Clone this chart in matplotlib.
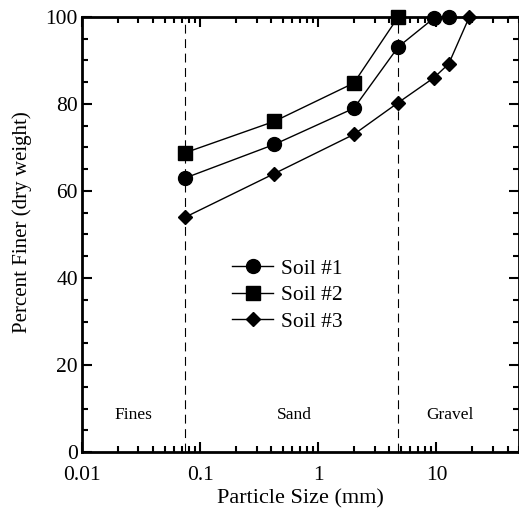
import matplotlib
matplotlib.use('Agg')
import matplotlib.pyplot as plt
from matplotlib.ticker import MultipleLocator, LogLocator, NullFormatter

plt.rcParams['font.family'] = ['Liberation Serif', 'DejaVu Serif']

# sieve sizes (mm) and percent finer
size1 = [0.075, 0.425, 2.0, 4.75, 9.5, 12.7]
soil1 = [63, 70.7, 79, 93.1, 99.7, 100]
size2 = [0.075, 0.425, 2.0, 4.75]
soil2 = [68.8, 76, 84.8, 100]
size3 = [0.075, 0.425, 2.0, 4.75, 9.5, 12.7, 19.0]
soil3 = [54, 64, 73, 80.3, 86, 89.2, 100]

bounds = [0.075, 4.75]
zones = ['Fines', 'Sand', 'Gravel']
zone_x = [0.027, 0.63, 12.9]

fig = plt.figure(figsize=(5.19, 5.12), dpi=100)
ax = fig.add_axes([0.158, 0.117, 0.842, 0.85])

ax.plot(size1, soil1, 'k-', marker='o', ms=10, lw=1, label='Soil #1', clip_on=False, zorder=3)
ax.plot(size2, soil2, 'k-', marker='s', ms=10, lw=1, label='Soil #2', clip_on=False, zorder=3)
ax.plot(size3, soil3, 'k-', marker='D', ms=7, lw=1, label='Soil #3', clip_on=False, zorder=3)

for b in bounds:
    ax.axvline(b, color='k', lw=0.8, ls=(0, (8, 5)))
for name, x in zip(zones, zone_x):
    ax.text(x, 8.5, name, ha='center', va='center', fontsize=12.5)

ax.set_xscale('log')
ax.set_xlim(0.01, 50)
ax.set_ylim(0, 100)
ax.xaxis.set_major_locator(LogLocator(base=10))
ax.xaxis.set_minor_locator(LogLocator(base=10, subs=range(2, 10)))
ax.xaxis.set_minor_formatter(NullFormatter())
ax.set_xticks([0.01, 0.1, 1, 10])
ax.set_xticklabels(['0.01', '0.1', '1', '10'])
ax.yaxis.set_major_locator(MultipleLocator(20))
ax.yaxis.set_minor_locator(MultipleLocator(5))

ax.tick_params(which='both', direction='in', top=True, right=True, labelsize=15.5, width=1.5)
ax.tick_params(axis='x', which='major', pad=10)
ax.tick_params(axis='y', which='major', pad=3)
ax.tick_params(which='major', length=7)
ax.tick_params(which='minor', length=4)
for s in ax.spines.values():
    s.set_linewidth(2)

ax.set_xlabel('Particle Size (mm)', fontsize=16, labelpad=3)
ax.set_ylabel('Percent Finer (dry weight)', fontsize=15)
ax.yaxis.set_label_coords(-0.114, 0.529)

ax.legend(loc='center', bbox_to_anchor=(0.47, 0.36), frameon=False, fontsize=15.5,
          handlelength=1.9, handletextpad=0.35, labelspacing=0.3)

fig.savefig('out.png', dpi=100)
